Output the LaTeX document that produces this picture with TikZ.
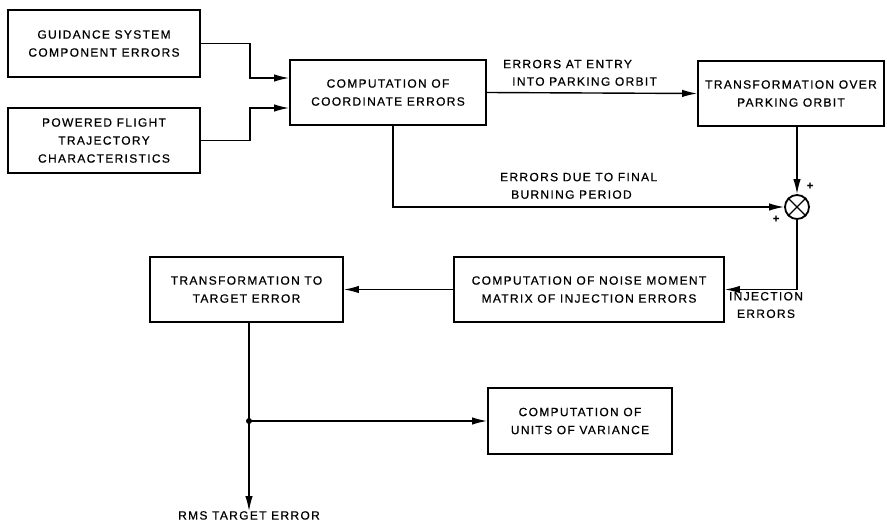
\documentclass[tikz,border=0pt]{standalone}
\usepackage{fontspec}
\setmainfont{Liberation Sans}[LetterSpace=11,FakeBold=0.6]
\usetikzlibrary{arrows.meta}
\tikzstyle{block} = [rectangle, draw = black, line width = 1.8pt, text centered, align = center, font = \fontsize{12}{18}\selectfont]
\tikzstyle{flowtext} = [inner sep = 0pt, font = \fontsize{12}{17.5}\selectfont]
\tikzstyle{arrow} = [line width = 1.4pt, -{Latex[length=15pt,width=7.5pt]}]
\tikzstyle{line} = [line width = 1.4pt]

\begin{document}
\begin{tikzpicture}[x=1pt,y=-1pt]
\useasboundingbox (0,0) rectangle (887,524);

\node(guidance) [block, minimum width = 192pt, minimum height = 67pt] at (104,43.5) {GUIDANCE SYSTEM\\COMPONENT ERRORS};
\node(powered) [block, minimum width = 192pt, minimum height = 65pt] at (104,140.5) {POWERED FLIGHT\\TRAJECTORY\\CHARACTERISTICS};
\node(coordinate) [block, minimum width = 196pt, minimum height = 65pt] at (388,92.5) {COMPUTATION OF\\COORDINATE ERRORS};
\node(parking) [block, minimum width = 186pt, minimum height = 65pt] at (791,93.5) {TRANSFORMATION OVER\\PARKING ORBIT};
\node(summer) [circle, draw = black, line width = 1.8pt, minimum size = 24pt, inner sep = 0pt] at (797,207) {};
\node(noise) [block, minimum width = 270pt, minimum height = 65pt] at (589,289.5) {COMPUTATION OF NOISE MOMENT\\MATRIX OF INJECTION ERRORS};
\node(target) [block, minimum width = 193pt, minimum height = 65pt] at (246.5,289.5) {TRANSFORMATION TO\\TARGET ERROR};
\node(variance) [block, minimum width = 184pt, minimum height = 66pt] at (580,421) {COMPUTATION OF\\UNITS OF VARIANCE};
\coordinate(branch) at (249,421);
\node(rms) [flowtext, anchor = north] at (249,511) {RMS TARGET ERROR};

\draw [line] (summer.north west) -- (summer.south east) (summer.north east) -- (summer.south west);
\node(plusa) [flowtext, font = \bfseries\fontsize{11}{11}\selectfont] at (810,186) {+};
\node(plusb) [flowtext, font = \bfseries\fontsize{11}{11}\selectfont] at (776,219) {+};

\draw [arrow] (guidance.east) -- ++(49,0) |- ([yshift=14.5pt]coordinate.west);
\draw [arrow] (powered.east) -- ++(49,0) |- ([yshift=-15.5pt]coordinate.west);
\draw [arrow] (coordinate.east) -- (parking.west);
\node(entry) [flowtext, anchor = south west, align = left] at (503,86) {ERRORS AT ENTRY\\\hspace*{9pt}INTO PARKING ORBIT};
\draw [arrow] ([xshift=5pt]coordinate.south) |- (summer.west);
\node(burning) [flowtext, anchor = south west, align = left] at (500,199) {ERRORS DUE TO FINAL\\\hspace*{11pt}BURNING PERIOD};
\draw [arrow] (summer.north |- parking.south) -- (summer.north);
\draw [arrow] (summer.south) |- (noise.east);
\node(injection) [flowtext, align = center] at (766,305) {INJECTION\\ERRORS};
\draw [arrow] (noise.west) -- (target.east);
\draw [line] (branch |- target.south) -- (branch);
\fill (branch) circle (3pt);
\draw [arrow] (branch) -- (variance.west);
\draw [arrow] (branch) -- (rms.north);

\end{tikzpicture}
\end{document}
